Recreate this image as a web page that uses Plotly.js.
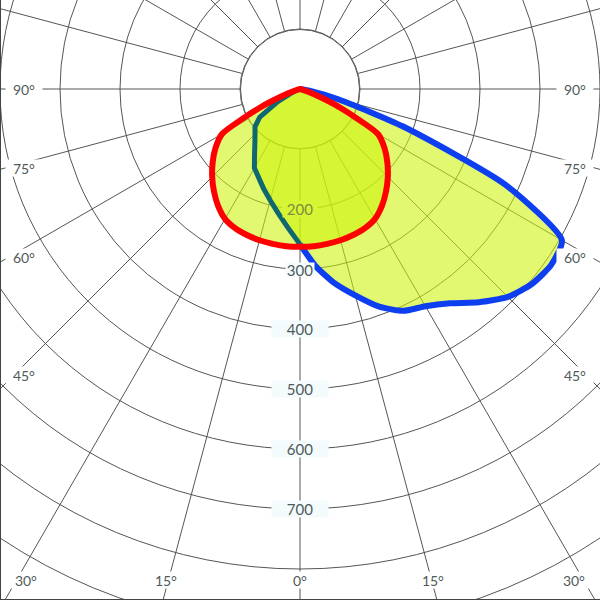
<!DOCTYPE html>
<html>
<head>
<meta charset="utf-8">
<script src="https://cdn.plot.ly/plotly-3.0.1.min.js"></script>
<style>
  html, body { margin: 0; padding: 0; background: #fff; overflow: hidden; }
  #wrap { position: relative; width: 600px; height: 600px; overflow: hidden; }
  #chart { position: absolute; left: -300px; top: -511px; width: 1200px; height: 1200px; }
</style>
</head>
<body>
<div id="wrap"><div id="chart"></div></div>
<script>
// ---- data (gamma angle in degrees, luminous intensity in cd/klm) ----
const gammaAngles   = [0, 5, 10, 15, 20, 25, 30, 35, 40, 45, 50, 55, 60, 65, 70, 75, 80, 85, 90];
const redIntensity  = [263, 263, 262, 261, 259, 256, 250, 238, 223, 207, 190, 172, 150, 74, 20, 4, 0, 0, 0];
const blueIntensity = [259, 296, 328, 356, 386, 408, 418, 436, 464, 490, 505, 511, 504, 378, 183, 66, 16, 3, 0];
const tealIntensity = [259, 232, 210, 192, 177, 163, 152, 132, 117, 106, 98, 82, 45, 17, 4, 0, 0, 0, 0];
const radialTickValues = [200, 300, 400, 500, 600, 700];
const angleLabelTexts = ['90°', '75°', '60°', '45°', '30°', '15°', '0°', '15°', '30°', '45°', '60°', '75°', '90°'];

// ---- layout geometry (window pixels) ----
const S = 1200, OX = -300, OY = -511;      // chart div size and offset inside the 600x600 window
const CX = 300, CY = 89, PXU = 0.6;        // centre and px per unit (radial range 0..1000 over 600px)
const angleLabelX = [24, 24, 24, 24, 26, 166, 300, 433, 574, 575, 575, 575, 575];
const angleLabelY = [89, 168, 257, 375, 580, 580, 580, 580, 580, 375, 257, 168, 89];
const px = wx => (wx - OX) / S;
const py = wy => 1 - (wy - OY) / S;

const fillColor = 'rgba(205,243,10,0.58)';
const textColor = '#505a5a';
const gridColor = '#555';

const negRev = arr => arr.slice().reverse();
const leftTheta = negRev(gammaAngles).map(a => -a);

const traces = [
  { // inner white disk (hides radial lines inside 100)
    type: 'scatterpolar', mode: 'markers', r: [0], theta: [0],
    marker: { size: 119, color: '#ffffff', line: { color: gridColor, width: 1 } },
    hoverinfo: 'skip', cliponaxis: false
  },
  { // C-plane (teal + blue) fill
    type: 'scatterpolar', mode: 'lines', fill: 'toself', fillcolor: fillColor,
    r: [...negRev(tealIntensity), ...blueIntensity.slice(1)],
    theta: [...leftTheta, ...gammaAngles.slice(1)],
    line: { width: 0, color: 'rgba(0,0,0,0)' }, hoverinfo: 'skip'
  },
  { // red plane fill
    type: 'scatterpolar', mode: 'lines', fill: 'toself', fillcolor: fillColor,
    r: [...negRev(redIntensity), ...redIntensity.slice(1)],
    theta: [...leftTheta, ...gammaAngles.slice(1)],
    line: { width: 0, color: 'rgba(0,0,0,0)', shape: 'spline', smoothing: 0.6 }, hoverinfo: 'skip'
  },
  { // teal line
    type: 'scatterpolar', mode: 'lines',
    r: tealIntensity, theta: gammaAngles.map(a => -a),
    line: { color: '#0f6770', width: 5 }
  },
  { // blue line
    type: 'scatterpolar', mode: 'lines',
    r: blueIntensity, theta: gammaAngles,
    line: { color: '#0d3ff0', width: 6, shape: 'spline', smoothing: 0.6 }
  },
  { // red line
    type: 'scatterpolar', mode: 'lines',
    r: [...negRev(redIntensity), ...redIntensity.slice(1)],
    theta: [...leftTheta, ...gammaAngles.slice(1)],
    line: { color: '#ff0000', width: 6, shape: 'spline', smoothing: 0.6 }
  }
];

const annotations = [];
radialTickValues.forEach(v => {
  annotations.push({
    xref: 'paper', yref: 'paper', x: px(CX), y: py(CY + v * PXU),
    xanchor: 'center', yanchor: 'middle', showarrow: false,
    text: String(v),
    font: { family: 'Lato, Roboto, sans-serif', size: 15, color: v === 200 ? '#7f8d3e' : textColor },
    bgcolor: v === 200 ? 'rgb(214,245,53)' : (v === 300 ? 'rgba(244,252,254,1)' : '#f3fbfd'),
    width: v === 200 ? 34 : (v === 300 ? 28 : 56), height: v === 300 ? 13 : 16, borderpad: 0
  });
});
angleLabelTexts.forEach((t, i) => {
  annotations.push({
    xref: 'paper', yref: 'paper', x: px(angleLabelX[i]), y: py(angleLabelY[i]),
    xanchor: 'center', yanchor: 'middle', showarrow: false,
    text: t, font: { family: 'Lato, Roboto, sans-serif', size: 14, color: textColor },
    bgcolor: '#ffffff', width: 36, height: 16, borderpad: 0
  });
});

const layout = {
  width: S, height: S,
  margin: { l: 0, r: 0, t: 0, b: 0, pad: 0 },
  paper_bgcolor: '#ffffff',
  showlegend: false,
  polar: {
    domain: { x: [0, 1], y: [0, 1] },
    bgcolor: '#ffffff',
    radialaxis: {
      range: [0, 1000], dtick: 100, showticklabels: false, ticks: '',
      showline: false, gridcolor: gridColor, gridwidth: 1
    },
    angularaxis: {
      rotation: 270, direction: 'counterclockwise', dtick: 15,
      showticklabels: false, ticks: '', showline: false,
      gridcolor: gridColor, gridwidth: 1
    }
  },
  annotations: annotations,
  shapes: [
    { type: 'line', xref: 'paper', yref: 'paper', x0: px(0.5), x1: px(0.5), y0: py(0), y1: py(600), line: { color: '#444', width: 1 } },
    { type: 'line', xref: 'paper', yref: 'paper', x0: px(0), x1: px(600), y0: py(599.5), y1: py(599.5), line: { color: '#444', width: 1 } }
  ]
};

Plotly.newPlot('chart', traces, layout, { staticPlot: true, displayModeBar: false });
</script>
</body>
</html>
